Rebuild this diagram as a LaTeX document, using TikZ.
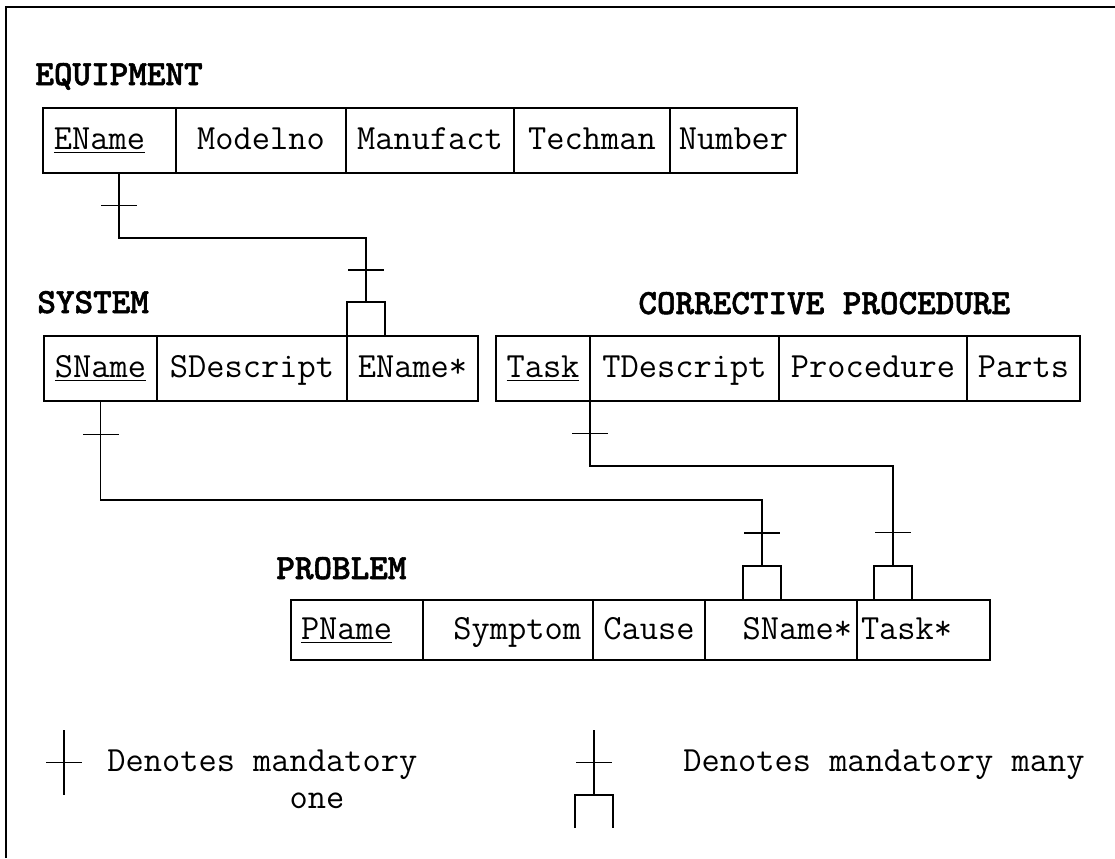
\documentclass[tikz,border=0pt]{standalone}
\usepackage{fontspec}
\usetikzlibrary{positioning}

\newfontfamily\headfamily{lmmonolt10-bold.otf}[FakeBold=1.5]
\newcommand{\tabfont}{\fontsize{17.7}{20}\selectfont\ttfamily}
\newcommand{\headfont}{\fontsize{17.7}{20}\selectfont\headfamily}
\newcommand{\legfont}{\fontsize{17.7}{18.5}\selectfont\ttfamily}

\begin{document}
\begin{tikzpicture}[x=0.5pt,y=-0.5pt,
    cell/.style={draw,rectangle,line width=0.8pt,inner xsep=2pt,inner ysep=0pt,outer sep=0pt,minimum height=32.5pt,text height=11.5pt,text depth=2.5pt,font=\tabfont},
    lcell/.style={cell,align=left},
    rcell/.style={cell,align=right},
    foot/.style={draw,rectangle,line width=0.6pt,inner sep=0pt,outer sep=0pt,minimum width=19pt,minimum height=17pt},
    link/.style={line width=0.6pt},
    tick/.style={fill=black,inner sep=0pt,outer sep=0pt,minimum width=18pt,minimum height=0.6pt},
    table name/.style={anchor=base west,inner sep=0pt,font=\headfont},
    legend text/.style={anchor=base west,inner sep=0pt,align=left,font=\legfont}]
    \useasboundingbox (0,0) rectangle (1115,858);
    \draw[line width=1pt] (6,858) -- (6,7) -- (1115,7);

    \node[table name] (equipment) at (35,85) {EQUIPMENT};
    \node[lcell,text width=55.5pt,inner xsep=5.5pt,anchor=north west] (eq1) at (43,108) {\underline{EName}};
    \node[cell,minimum width=85pt,right=0pt of eq1] (eq2) {Modelno};
    \node[cell,minimum width=84pt,right=0pt of eq2] (eq3) {Manufact};
    \node[cell,minimum width=78pt,right=0pt of eq3] (eq4) {Techman};
    \node[cell,minimum width=63.5pt,right=0pt of eq4] (eq5) {Number};

    \node[table name] (system) at (37,313) {SYSTEM};
    \node[cell,minimum width=56.5pt,anchor=north west] (sys1) at (44,336) {\underline{SName}};
    \node[cell,minimum width=95pt,right=0pt of sys1] (sys2) {SDescript};
    \node[cell,minimum width=65.5pt,right=0pt of sys2] (sys3) {EName*};

    \node[table name] (corrective) at (638,314) {CORRECTIVE PROCEDURE};
    \node[cell,minimum width=47pt,anchor=north west] (cp1) at (496,336) {\underline{Task}};
    \node[cell,minimum width=94.5pt,right=0pt of cp1] (cp2) {TDescript};
    \node[cell,minimum width=94pt,right=0pt of cp2] (cp3) {Procedure};
    \node[cell,minimum width=56.5pt,right=0pt of cp3] (cp4) {Parts};

    \node[table name] (problem) at (276,579) {PROBLEM};
    \node[lcell,text width=56pt,inner xsep=5pt,minimum height=30pt,anchor=north west] (pr1) at (291,600) {\underline{PName}};
    \node[rcell,text width=73pt,inner xsep=6pt,minimum height=30pt,right=0pt of pr1] (pr2) {Symptom};
    \node[cell,minimum width=56pt,minimum height=30pt,right=0pt of pr2] (pr3) {Cause};
    \node[rcell,text width=71pt,inner xsep=2.5pt,minimum height=30pt,right=0pt of pr3] (pr4) {SName*};
    \node[lcell,text width=62.5pt,inner xsep=2pt,minimum height=30pt,right=0pt of pr4] (pr5) {Task*};

    \node[foot,anchor=south west] (fk1) at (sys3.north west) {};
    \node[foot,anchor=south] (fk2) at ([xshift=28.5pt]pr4.north west) {};
    \node[foot,anchor=south] (fk3) at ([xshift=18pt]pr5.north west) {};

    \draw[link] ([xshift=4.75pt]eq1.south) -- node[tick]{} ++(0,-32.5pt) -| node[tick,pos=0.75]{} (fk1.north);
    \draw[link] (sys1.south) -- node[tick,pos=0.34]{} ++(0,-49.5pt) -| node[tick,pos=0.75]{} (fk2.north);
    \draw[link] (cp1.south east) -- node[tick]{} ++(0,-32.5pt) -| node[tick,pos=0.834]{} (fk3.north);

    \draw[link] (64,730) -- node[tick]{} (64,795);
    \node[legend text] (one) at (107,808) {Denotes mandatory\\\hphantom{Denotes ma}one};
    \draw[link] (594,730) -- node[tick]{} (594,795);
    \draw[link] (575,828) |- (613,795) -- (613,828);
    \node[legend text] (many) at (683,771) {Denotes mandatory many};
\end{tikzpicture}
\end{document}
